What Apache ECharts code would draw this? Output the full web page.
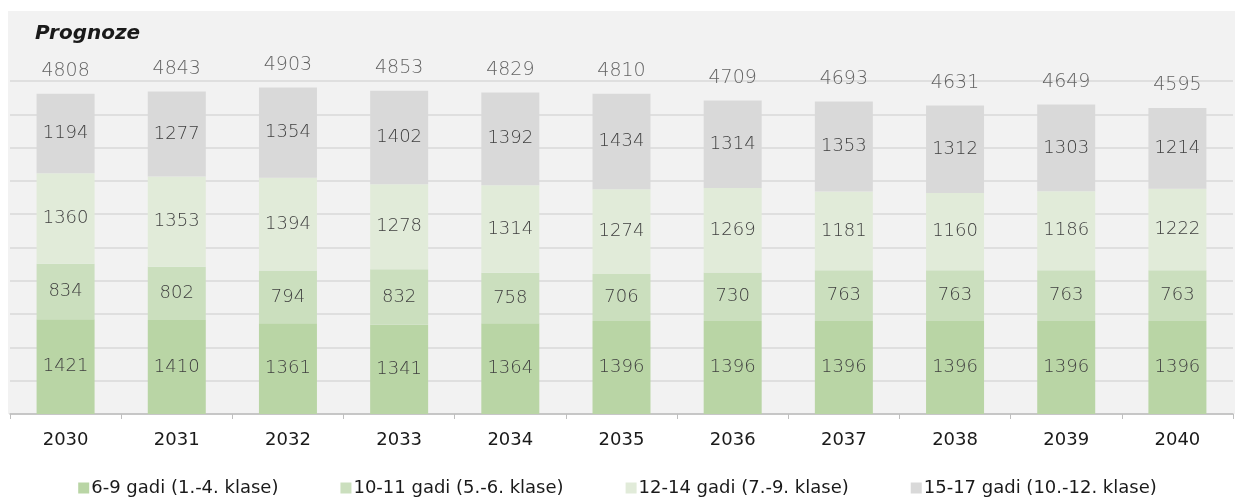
<!DOCTYPE html>
<html><head><meta charset="utf-8">
<script src="https://cdn.jsdelivr.net/npm/echarts@6/dist/echarts.min.js"></script>
<style>html,body{margin:0;padding:0;background:#fff}#c{width:1235px;height:497px}</style>
</head><body><div id="c"></div>
<script>
const categories = ['2030','2031','2032','2033','2034','2035','2036','2037','2038','2039','2040'];
const age6to9 = [1421,1410,1361,1341,1364,1396,1396,1396,1396,1396,1396];
const age10to11 = [834,802,794,832,758,706,730,763,763,763,763];
const age12to14 = [1360,1353,1394,1278,1314,1274,1269,1181,1160,1186,1222];
const age15to17 = [1194,1277,1354,1402,1392,1434,1314,1353,1312,1303,1214];
const totals = [4808,4843,4903,4853,4829,4810,4709,4693,4631,4649,4595];
const seriesNames = ['6-9 gadi (1.-4. klase)','10-11 gadi (5.-6. klase)','12-14 gadi (7.-9. klase)','15-17 gadi (10.-12. klase)'];
const colors = ['#b9d5a5','#cbdfbe','#e1ebd9','#d9d9d9'];

const FONT = '"DejaVu Sans", sans-serif';
const chart = echarts.init(document.getElementById('c'));
const segLabel = {show:true, position:'inside', color:'#404040', fontSize:18, fontFamily:FONT, fontWeight:200};
const dataSets = [age6to9, age10to11, age12to14, age15to17];
const series = dataSets.map((d,i)=>({
  name: seriesNames[i], type:'bar', stack:'a', data:d, barWidth:58,
  itemStyle:{color:colors[i]}, label:segLabel
}));
series.push({
  name:'total', type:'scatter', data: totals, symbolSize:0, z:10,
  label:{show:true, position:'top', distance:13, color:'#404040', fontSize:19, fontFamily:FONT, fontWeight:200,
    formatter:p=>String(totals[p.dataIndex])},
  tooltip:{show:false}
});
chart.setOption({
  animation:false,
  backgroundColor:'#ffffff',
  graphic:[{type:'rect', shape:{x:8,y:11,width:1227,height:403}, style:{fill:'#f2f2f2'}, z:-10}],
  title:{text:'Prognoze', left:30, top:19, textStyle:{fontFamily:FONT, fontStyle:'italic', fontWeight:'bold', fontSize:20, color:'#1a1a1a'}},
  grid:{left:10, right:2, top:81, bottom:83},
  legend:{data:seriesNames, top:474, left:'center', itemWidth:11, itemHeight:11, itemGap:62, icon:'rect',
    textStyle:{fontFamily:FONT, fontSize:18, fontWeight:'normal', color:'#1a1a1a', padding:[0,0,0,-3]}},
  xAxis:{type:'category', data:categories,
    axisLine:{lineStyle:{color:'#bfbfbf', width:1.5}},
    axisTick:{show:true, length:5, lineStyle:{color:'#bfbfbf'}},
    axisLabel:{fontFamily:FONT, fontSize:18, fontWeight:'normal', color:'#1a1a1a', margin:17}},
  yAxis:{type:'value', min:0, max:5000, interval:500,
    axisLabel:{show:false}, axisLine:{show:false}, axisTick:{show:false},
    splitLine:{lineStyle:{color:'#d9d9d9', width:1.5}}},
  series
});
</script></body></html>
